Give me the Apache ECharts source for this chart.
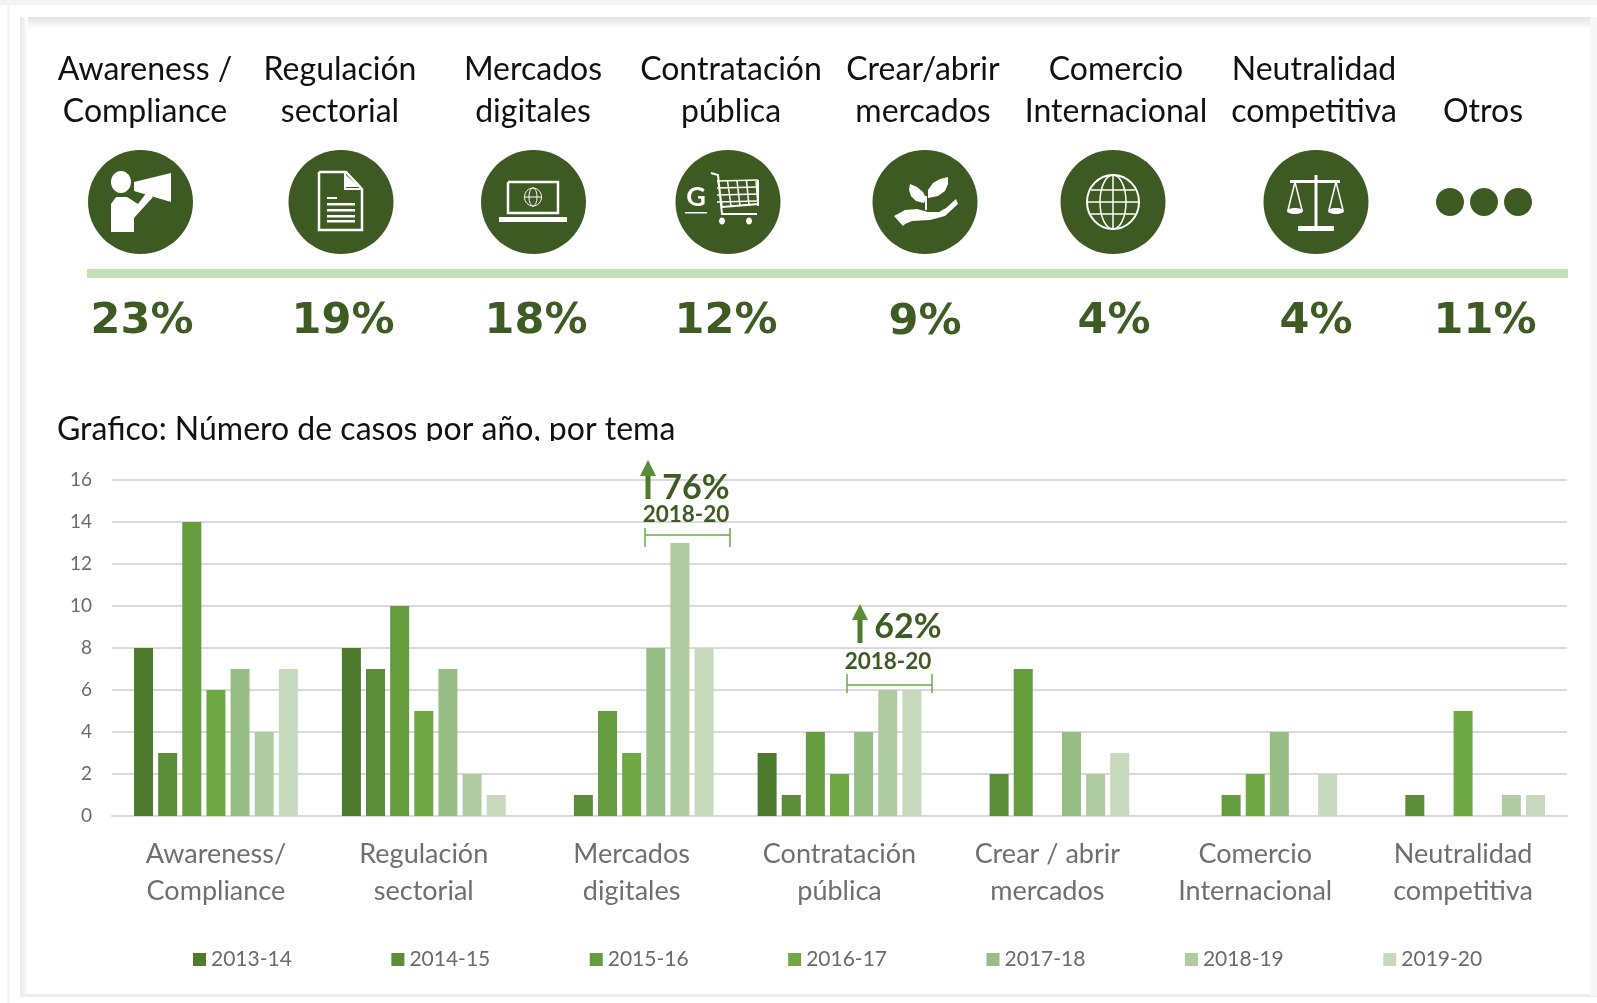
<!DOCTYPE html>
<html><head><meta charset="utf-8">
<style>html,body{margin:0;padding:0;background:#fff}#c{width:1597px;height:1003px}</style>
<script src="https://cdn.jsdelivr.net/npm/echarts@6/dist/echarts.min.js"></script>
</head><body><div id="c"></div>
<script>
const categories = ['Awareness/\nCompliance','Regulación\nsectorial','Mercados\ndigitales','Contratación\npública','Crear / abrir\nmercados','Comercio\nInternacional','Neutralidad\ncompetitiva'];
const y2013 = [8,8,0,3,0,0,0];
const y2014 = [3,7,1,1,2,0,1];
const y2015 = [14,10,5,4,7,1,0];
const y2016 = [6,5,3,2,0,2,5];
const y2017 = [7,7,8,4,4,4,0];
const y2018 = [4,2,13,6,2,0,1];
const y2019 = [7,1,8,6,3,2,1];
const seriesNames = ['2013-14','2014-15','2015-16','2016-17','2017-18','2018-19','2019-20'];
const seriesValues = [y2013,y2014,y2015,y2016,y2017,y2018,y2019];
const seriesColors = ['#4E7A2E','#5B8C37','#659C3D','#6EA945','#97BE85','#AFCBA0','#C6D9BD'];
const topLabels = [['Awareness /','Compliance'],['Regulación','sectorial'],['Mercados','digitales'],['Contratación','pública'],['Crear/abrir','mercados'],['Comercio','Internacional'],['Neutralidad','competitiva'],['','Otros']];
const topShares = ['23%','19%','18%','12%','9%','4%','4%','11%'];
const topLabelX = [145,340,533,731,923,1116,1314,1483];
const shareX = [142,343,536,726,925,1114,1316,1485];
const iconX = [140.5,341,533.5,728,925,1113,1316];

const DARK='#3E5B24', FONT='Lato, "Noto Sans", sans-serif';
const g=[];
const W={fill:'#fff'};
function rect(x,y,w,h,fill,z){return {type:'rect',shape:{x,y,width:w,height:h},style:{fill},z:z||1,silent:true};}
function txt(t,x,y,size,fill,o){return Object.assign({type:'text',x,y,z:5,silent:true,style:{text:t,font:(o&&o.weight||'normal')+' '+size+'px '+(o&&o.family||FONT),fill,align:(o&&o.align)||'center',verticalAlign:'middle'}},o&&o.extra||{});}
function poly(points,style){return {type:'polygon',shape:{points},style,z:4,silent:true};}
function pline(points,lw,c){return {type:'polyline',shape:{points},style:{fill:'none',stroke:c||'#fff',lineWidth:lw||2},z:4,silent:true};}
function ell(cx,cy,rx,ry,style){return {type:'ellipse',shape:{cx,cy,rx,ry},style,z:4,silent:true};}

/* card frame */
const grad=(x,y,x2,y2,c)=>({type:'linear',x,y,x2,y2,colorStops:[{offset:0,color:c},{offset:1,color:'#ffffff'}]});
g.push(rect(0,0,1597,5,'#F3F3F3'));
g.push(rect(7,0,3,1003,'#F5F5F5'));
g.push(rect(20,17,1577,12,grad(0,0,0,1,'#E2E2E2')));
g.push(rect(20,17,8,979,grad(0,0,1,0,'#E6E6E6')));
g.push(rect(20,994,1577,3,'#EDEDED'));
g.push(rect(1590,17,7,979,'#F7F7F7'));

/* top row */
topLabels.forEach((l,i)=>{
  if(l[0]) g.push(txt(l[0],topLabelX[i],70,32,'#111'));
  g.push(txt(l[1],topLabelX[i],112,32,'#111'));
  g.push(txt(topShares[i],shareX[i],i===4?323:322,43,DARK,{weight:'bold',family:'"DejaVu Sans"'}));
});
iconX.forEach(x=>g.push(ell(x,202,52.5,52,{fill:'#3D5A23'})));
[1450,1484,1518].forEach(x=>g.push(ell(x,202,14,14,{fill:'#3D5A23'})));
g.push(rect(87,269,1481,9,'#C5DFB5'));

/* megaphone */
g.push(ell(121,182,10,11,W));
g.push(poly([[111,232],[111,204],[116,197],[127,197],[138,204],[147,192],[153,197],[134,218],[134,232]],W));
g.push(poly([[134,182],[171,173],[171,202],[134,191]],W));
/* document */
g.push(pline([[319,172],[346,172],[362,189],[362,230],[319,230],[319,172]],2.5));
g.push(pline([[345,173],[345,189],[361,189]],2));
g.push(poly([[346,175],[346,187],[359,187]],W));
[203,209,215,220].forEach(y=>g.push(rect(327,y,28,2.5,'#fff',4)));
g.push(rect(327,197,10,2,'#fff',4));
/* laptop */
g.push(pline([[508,182],[558,182],[558,213],[508,213],[508,182]],2.5));
g.push(rect(499,217,68,5,'#fff',4));
g.push(ell(533,197,8.5,9,{fill:'none',stroke:'#fff',lineWidth:1}));
g.push(ell(533,197,4,9,{fill:'none',stroke:'#fff',lineWidth:1}));
g.push(pline([[525,197],[541,197]],1));
/* cart */
g.push(txt('G',696,197,27,'#fff',{weight:'bold'}));
g.push(rect(685,212,22,1.5,'#fff',4));
g.push(pline([[711,173],[718,175],[722,214],[757,214]],2));
for(let i=0;i<5;i++) g.push(pline([[718+i*9.5,181],[722+i*9,206]],1.5));
[181,188,195,202].forEach(y=>g.push(pline([[717,y],[758,y-1]],1.5)));
g.push(pline([[758,180],[758,204],[722,207]],2));
g.push(ell(722,221,3,3.5,W));g.push(ell(749,221,3,3.5,W));
/* plant in hand */
g.push(poly([[924,203],[916,201],[911,196],[909,190],[910,184],[917,187],[923,192],[926,198]],W));
g.push(poly([[928,198],[928,190],[933,183],[940,179],[948,177],[948,184],[945,191],[938,196]],W));
g.push(pline([[926,196],[926,210]],2));
g.push(poly([[894,216],[905,210],[917,209],[928,212],[938,212],[941,215],[932,216],[946,208],[956,199],[958,204],[945,216],[930,220],[912,221],[905,224],[903,226]],W));
/* globe */
g.push(ell(1113,202,26,27,{fill:'none',stroke:'#fff',lineWidth:2}));
g.push(ell(1113,202,13,27,{fill:'none',stroke:'#fff',lineWidth:1.5}));
g.push(pline([[1113,175],[1113,229]],1.5));
g.push(pline([[1087,202],[1139,202]],1.5));
g.push(pline([[1091,190],[1135,190]],1.5));
g.push(pline([[1091,214],[1135,214]],1.5));
/* scales */
g.push(rect(1314.5,175,3,52,'#fff',4));
g.push(rect(1290,180,50,3,'#fff',4));
g.push(rect(1298,226,36,5,'#fff',4));
g.push(pline([[1295,182],[1288,210],[1302,210],[1295,182]],1.5));
g.push(pline([[1336,182],[1329,210],[1343,210],[1336,182]],1.5));
g.push(ell(1295,211,8,3,W));g.push(ell(1336,211,8,3,W));

/* title (cut at the bottom as in the source) */
g.push(txt('Grafico: Número de casos por año, por tema',57,430,32,'#111',{align:'left'}));
g.push(Object.assign(rect(40,441,760,10,'#fff'),{z:6}));

/* annotations */
function note(ax,ay1,ay2,pct,px,py,lx,ly,bx1,bx2,by,t1,t2){
  g.push(rect(ax-2.5,ay1+13,5,ay2-ay1-13,'#4E7A2E',8));
  g.push(Object.assign(poly([[ax-8,ay1+16],[ax,ay1],[ax+8,ay1+16]],{fill:'#5B8C37'}),{z:8}));
  g.push(Object.assign(txt(pct,px,py,34,DARK,{weight:'bold',align:'center'}),{z:9}));
  g.push(Object.assign(txt('2018-20',lx,ly,22.5,DARK,{weight:'bold'}),{z:9}));
  g.push(Object.assign(pline([[bx1,by],[bx2,by]],1.5,'#6EA945'),{z:9}));
  g.push(Object.assign(pline([[bx1,t1],[bx1,t2]],1.5,'#6EA945'),{z:9}));
  g.push(Object.assign(pline([[bx2,t1],[bx2,t2]],1.5,'#6EA945'),{z:9}));
}
note(648,460,499,'76%',696,488,686,515,645,730,535,528,547);
note(860,604,643,'62%',908,627,888,662,847,932,685,674,693);

const chart=echarts.init(document.getElementById('c'),null,{renderer:'canvas'});
chart.setOption({
  animation:false,
  backgroundColor:'#fff',
  grid:{left:112,right:30,top:480,bottom:187,containLabel:false},
  legend:{left:188,top:944,itemWidth:13,itemHeight:13,itemGap:99.5,icon:'rect',selectedMode:false,
    textStyle:{fontFamily:'Lato',fontSize:21,color:'#6b6b6b'},data:seriesNames},
  xAxis:{type:'category',data:categories,
    axisLine:{lineStyle:{color:'#D9D9D9',width:2}},axisTick:{show:false},
    axisLabel:{interval:0,margin:20,fontFamily:'Lato',fontSize:27,lineHeight:37,color:'#6f6f6f'}},
  yAxis:{type:'value',min:0,max:16,interval:2,
    axisLine:{show:false},axisTick:{show:false},
    splitLine:{lineStyle:{color:'#DADADA',width:2}},
    axisLabel:{margin:20,fontFamily:'Lato',fontSize:19,color:'#6b6b6b'}},
  series:seriesNames.map((n,i)=>({name:n,type:'bar',data:seriesValues[i],barWidth:19,barGap:'27%',
    itemStyle:{color:seriesColors[i]},emphasis:{disabled:true}})),
  graphic:{elements:g}
});
</script></body></html>
